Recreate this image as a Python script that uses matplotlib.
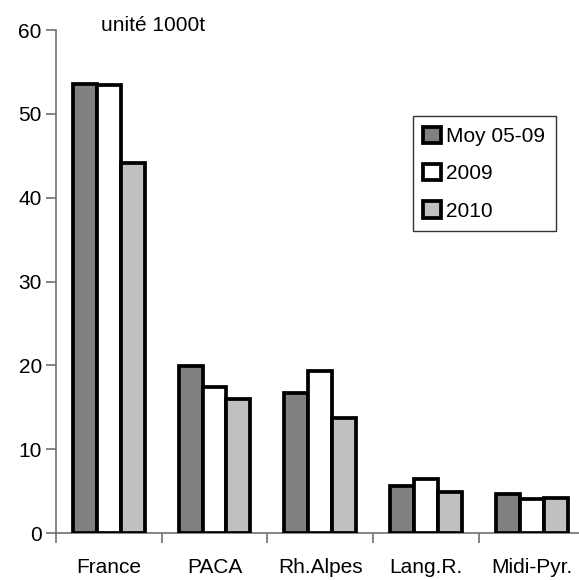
import matplotlib
matplotlib.use("Agg")
import matplotlib.pyplot as plt
import numpy as np

plt.rcParams['font.family'] = ['Liberation Sans', 'DejaVu Sans']

categories = ["France", "PACA", "Rh.Alpes", "Lang.R.", "Midi-Pyr."]
series_names = ["Moy 05-09", "2009", "2010"]
moy_05_09 = [53.6, 19.9, 16.7, 5.6, 4.6]
y2009 = [53.5, 17.4, 19.3, 6.5, 4.0]
y2010 = [44.2, 16.0, 13.7, 4.9, 4.2]
colors = ["#808080", "#ffffff", "#c0c0c0"]
yticks = [0, 10, 20, 30, 40, 50, 60]

fig = plt.figure(figsize=(5.79, 5.80), dpi=100)
ax = fig.add_axes([0.0962, 0.081, 0.914, 0.867])

x = np.arange(len(categories))
w = 0.226
for i, (vals, c, name) in enumerate(zip([moy_05_09, y2009, y2010], colors, series_names)):
    ax.bar(x + (i - 1) * w, vals, width=w, color=c, edgecolor="black",
           linewidth=2.7, label=name, zorder=3)

ax.set_xlim(-0.5, len(categories) - 0.5)
ax.set_ylim(0, 60)
ax.set_yticks(yticks)
ax.set_yticklabels([str(t) for t in yticks], fontsize=15)

ax.set_xticks(np.arange(len(categories) + 1) - 0.5)
ax.set_xticklabels([])
ax.set_xticks(x, minor=True)
ax.set_xticklabels(categories, minor=True, fontsize=15)
ax.tick_params(axis='x', which='minor', length=0, pad=18)
ax.tick_params(axis='x', which='major', length=7, width=1.2, color="#707070", direction='out')
ax.tick_params(axis='y', which='major', length=7, width=1.2, color="#707070", direction='out', pad=3)

for s in ["top", "right"]:
    ax.spines[s].set_visible(False)
for s in ["left", "bottom"]:
    ax.spines[s].set_color("#707070")
    ax.spines[s].set_linewidth(1.2)

ax.text(0.085, 0.99, "unité 1000t", transform=ax.transAxes, fontsize=15,
        ha="left", va="bottom")

leg = ax.legend(loc="upper left", bbox_to_anchor=(0.675, 0.829), fontsize=15,
                frameon=True, fancybox=False, shadow=False, handlelength=0.85,
                handleheight=0.85, handletextpad=0.25, labelspacing=0.85,
                borderpad=0.5, borderaxespad=0.0)
leg.get_frame().set_edgecolor("black")
leg.get_frame().set_linewidth(1.0)
for h in leg.legend_handles:
    h.set_linewidth(2.7)

fig.savefig("out.png", dpi=100)
